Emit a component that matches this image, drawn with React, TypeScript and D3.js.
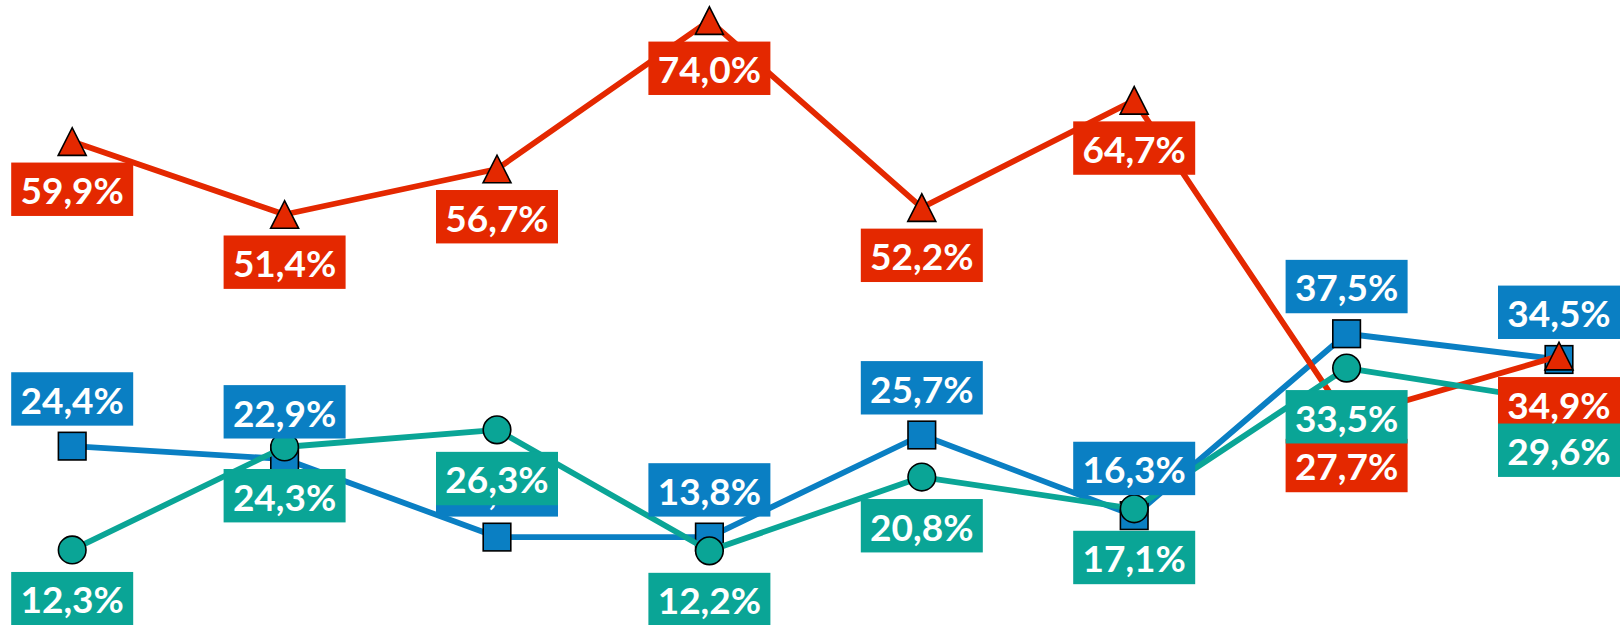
import React from 'react';
import * as d3 from 'd3';

const categories = ['P1', 'P2', 'P3', 'P4', 'P5', 'P6', 'P7', 'P8'];
const redValues = [59.9, 51.4, 56.7, 74.0, 52.2, 64.7, 27.7, 34.9];
const blueValues = [24.4, 22.9, 13.8, 13.8, 25.7, 16.3, 37.5, 34.5];
const tealValues = [12.3, 24.3, 26.3, 12.2, 20.8, 17.1, 33.5, 29.6];

const W = 1624;
const H = 625;
const RED = '#E42800';
const BLUE = '#0A7FC3';
const TEAL = '#0AA596';

const fmt = (v: number) => v.toFixed(1).replace('.', ',') + '%';

type Series = { key: string; values: number[]; color: string; marker: 'square' | 'triangle' | 'circle'; labelPos: 'above' | 'below'; gap: number };

const series: Series[] = [
  { key: 'blue', values: blueValues, color: BLUE, marker: 'square', labelPos: 'above', gap: 20.5 },
  { key: 'red', values: redValues, color: RED, marker: 'triangle', labelPos: 'below', gap: 21 },
  { key: 'teal', values: tealValues, color: TEAL, marker: 'circle', labelPos: 'below', gap: 22 },
];

export default function App() {
  const x = d3.scalePoint<string>().domain(categories).range([72.2, 1559]);
  const y = d3.scaleLinear().domain([0, 80]).range([655.5, 655.5 - 80 * 8.58]);
  const line = d3.line<number>().x((_, i) => x(categories[i]) as number).y((v) => y(v));

  const boxW = 122;
  const boxH = 53.4;
  const ms = 27.6;

  const marker = (s: Series, v: number, i: number) => {
    const cx = x(categories[i]) as number;
    const cy = y(v);
    const common = { fill: s.color, stroke: '#000', strokeWidth: 1.6 };
    if (s.marker === 'square') {
      return <rect key={i} x={cx - ms / 2} y={cy - ms / 2} width={ms} height={ms} {...common} />;
    }
    if (s.marker === 'circle') {
      return <circle key={i} cx={cx} cy={cy} r={ms / 2} {...common} />;
    }
    const hw = 14;
    const hh = 13.8;
    return <path key={i} d={`M${cx - hw},${cy + hh}L${cx},${cy - hh}L${cx + hw},${cy + hh}Z`} {...common} strokeLinejoin="miter" />;
  };

  const label = (s: Series, v: number, i: number) => {
    const cx = x(categories[i]) as number;
    const cy = y(v);
    const top = s.labelPos === 'above' ? cy - s.gap - boxH : cy + s.gap;
    return (
      <g key={i}>
        <rect x={cx - boxW / 2} y={top} width={boxW} height={boxH} fill={s.color} />
        <text x={cx} y={top + 41.5} textAnchor="middle" fill="#fff" fontFamily="Lato, 'Open Sans', sans-serif" fontWeight={700} fontSize={37}>
          {fmt(v)}
        </text>
      </g>
    );
  };

  return (
    <svg width={W} height={H} style={{ position: 'absolute', left: 0, top: 0, background: '#fff' }}>
      <rect width={W} height={H} fill="#fff" />
      {series.map((s) => (
        <g key={s.key}>
          <path d={line(s.values) || ''} fill="none" stroke={s.color} strokeWidth={5.8} strokeLinejoin="round" />
          {s.values.map((v, i) => marker(s, v, i))}
        </g>
      ))}
      {series.map((s) => (
        <g key={s.key + '-labels'}>{s.values.map((v, i) => label(s, v, i))}</g>
      ))}
    </svg>
  );
}
